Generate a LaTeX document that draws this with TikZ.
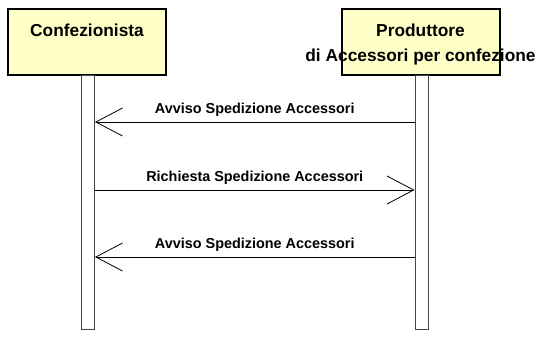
\documentclass[tikz,border=0pt]{standalone}
\usepackage{fontspec}
\setmainfont{Liberation Sans}
\usetikzlibrary{arrows.meta}
\definecolor{boxyellow}{RGB}{255,255,200}
\definecolor{bargray}{RGB}{70,70,70}
\begin{document}
\begin{tikzpicture}[x=0.75pt, y=-0.75pt,
    actor/.style={draw=black, line width=1.5pt, fill=boxyellow, minimum width=118.5pt, minimum height=49.5pt, inner sep=0pt},
    lifebar/.style={draw=bargray, line width=0.75pt, fill=white, minimum width=9.75pt, minimum height=191pt, inner sep=0pt},
    msg/.style={line width=0.6pt, -{Straight Barb[length=20pt, width=21pt, line width=0.6pt]}},
    txt/.style={font=\fontsize{13}{15}\selectfont\bfseries, inner sep=0pt},
    msgtxt/.style={font=\fontsize{10.8}{13}\selectfont\bfseries, inner sep=0pt, above=3.5pt}]
    \useasboundingbox (0, 0) rectangle (541, 336);
    % actors
    \node[actor] (conf) at (87, 41.5) {};
    \node[txt] (conflbl) at (87, 30) {Confezionista};
    \node[actor] (prod) at (420.5, 41.5) {};
    \node[txt] (prodlbl) at (420.5, 30) {Produttore};
    \node[txt] (prodlbl2) at (420.5, 57) {di Accessori per confezione};
    % lifelines
    \node[lifebar] (confbar) at (88, 202.5) {};
    \node[lifebar] (prodbar) at (421.5, 202.5) {};
    % messages
    \draw[msg] (prodbar.west |- 0,122) -- node[msgtxt] {Avviso Spedizione Accessori} (confbar.east |- 0,122);
    \draw[msg] (confbar.east |- 0,190) -- node[msgtxt] {Richiesta Spedizione Accessori} (prodbar.west |- 0,190);
    \draw[msg] (prodbar.west |- 0,257) -- node[msgtxt] {Avviso Spedizione Accessori} (confbar.east |- 0,257);
\end{tikzpicture}
\end{document}
